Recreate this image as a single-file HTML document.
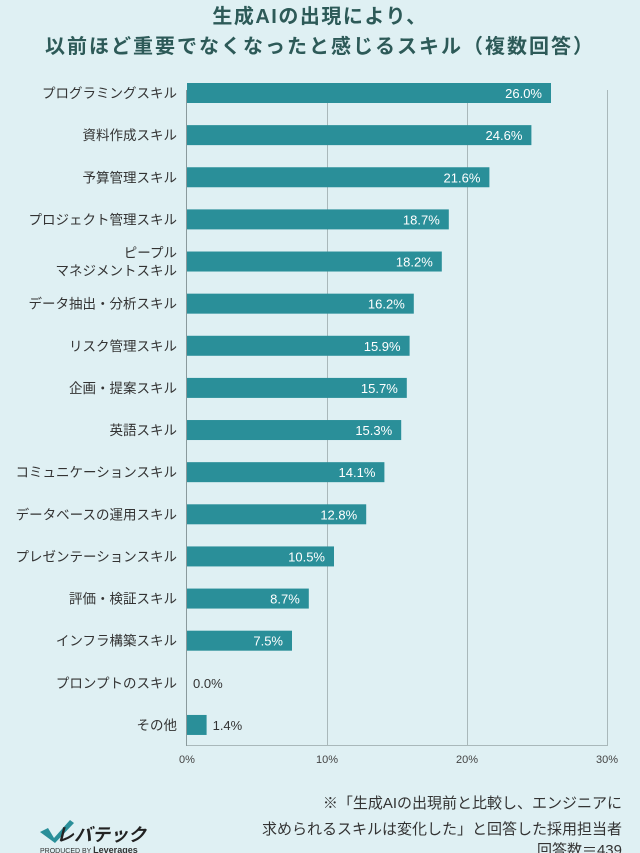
<!DOCTYPE html>
<html><head><meta charset="utf-8"><style>
body{margin:0;background:#dff0f3;}
svg{display:block}
text{font-family:"Liberation Sans","Noto Sans CJK JP",sans-serif;}
</style></head><body>
<svg width="640" height="853" viewBox="0 0 640 853">
<rect width="640" height="853" fill="#dff0f3"/>
<text x="320" y="23" text-anchor="middle" font-size="20" font-weight="bold" letter-spacing="1.5" fill="#2d5a58">生成AIの出現により、</text>
<text x="320" y="53" text-anchor="middle" font-size="20" font-weight="bold" letter-spacing="2" fill="#2d5a58">以前ほど重要でなくなったと感じるスキル（複数回答）</text>
<g stroke="#a9b8ba" stroke-width="1">
<line x1="327.5" y1="90" x2="327.5" y2="746"/>
<line x1="467.5" y1="90" x2="467.5" y2="746"/>
<line x1="607.5" y1="90" x2="607.5" y2="746"/>
<line x1="187" y1="745.5" x2="608" y2="745.5"/>
<line x1="186.5" y1="90" x2="186.5" y2="746" stroke="#8a9a9c"/>
</g>
<g font-size="11" fill="#444" text-anchor="middle">
<text x="187" y="763">0%</text><text x="327" y="763">10%</text><text x="467" y="763">20%</text><text x="607" y="763">30%</text>
</g>
<g id="bars" font-size="13.5"></g>
<g font-size="15" fill="#333" text-anchor="end">
<text x="622" y="808">※「生成AIの出現前と比較し、エンジニアに</text>
<text x="622" y="834">求められるスキルは変化した」と回答した採用担当者</text>
<text x="622" y="855">回答数＝439</text>
</g>
<polygon points="40,832 48,828 54,838 70,820 74,823 55,843" fill="#2a8f99"/>
<text x="56" y="841" font-size="18" font-weight="bold" fill="#222" font-style="italic">レバテック</text>
<text x="40" y="853" font-size="7" fill="#333">PRODUCED BY <tspan font-weight="bold" font-size="9">Leverages</tspan></text>
</svg>
<script>
var d=[["プログラミングスキル",26.0],["資料作成スキル",24.6],["予算管理スキル",21.6],["プロジェクト管理スキル",18.7],["ピープル|マネジメントスキル",18.2],["データ抽出・分析スキル",16.2],["リスク管理スキル",15.9],["企画・提案スキル",15.7],["英語スキル",15.3],["コミュニケーションスキル",14.1],["データベースの運用スキル",12.8],["プレゼンテーションスキル",10.5],["評価・検証スキル",8.7],["インフラ構築スキル",7.5],["プロンプトのスキル",0.0],["その他",1.4]];
var g=document.getElementById('bars'),s='';
d.forEach(function(r,i){var cy=93+i*42.13,w=r[1]*14;
s+='<rect x="187" y="'+(cy-10)+'" width="'+w+'" height="20" fill="#2a8f99"/>';
var p=r[0].split('|');
if(p.length==1)s+='<text x="177" y="'+(cy+5)+'" text-anchor="end" fill="#333">'+p[0]+'</text>';
else s+='<text x="177" y="'+(cy-4)+'" text-anchor="end" fill="#333">'+p[0]+'</text><text x="177" y="'+(cy+14)+'" text-anchor="end" fill="#333">'+p[1]+'</text>';
var v=r[1].toFixed(1)+'%';
if(r[1]>5)s+='<text x="'+(187+w-9)+'" y="'+(cy+5)+'" text-anchor="end" fill="#fff" font-size="13">'+v+'</text>';
else s+='<text x="'+(187+w+6)+'" y="'+(cy+5)+'" fill="#333" font-size="13">'+v+'</text>';
});
g.innerHTML=s;
</script>
</body></html>
